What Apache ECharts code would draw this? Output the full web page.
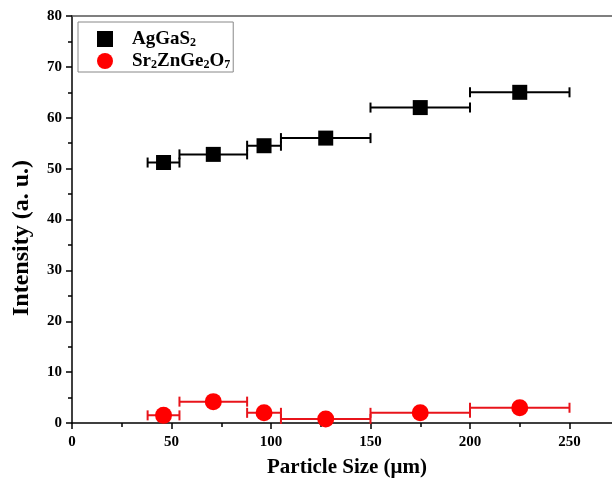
<!DOCTYPE html>
<html>
<head>
<meta charset="utf-8">
<script src="https://cdn.jsdelivr.net/npm/echarts@6/dist/echarts.min.js"></script>
<style>
  html, body { margin: 0; padding: 0; background: #fff; }
  #main { width: 612px; height: 486px; }
</style>
</head>
<body>
<div id="main"></div>
<script>
// particle size bins (µm): centre, lower and upper edge
const sizes = [46, 71, 96.5, 127.5, 175, 225];
const sizeLow = [38, 54, 88, 105, 150, 200];
const sizeHigh = [54, 88, 105, 150, 200, 250];
// SHG intensity (a. u.)
const agGaS2 = [51.2, 52.8, 54.5, 56.0, 62.0, 65.0];
const srZnGeO = [1.5, 4.2, 2.0, 0.8, 2.0, 3.0];
const yTicks = [0, 10, 20, 30, 40, 50, 60, 70, 80];

const FONT = 'Liberation Serif';

function pts(ys) {
  return sizes.map((x, i) => [x, ys[i]]);
}
function bars(ys) {
  return sizes.map((x, i) => [sizeLow[i], sizeHigh[i], ys[i]]);
}

// horizontal error bar with end caps
function errBar(color) {
  return function (params, api) {
    const a = api.coord([api.value(0), api.value(2)]);
    const b = api.coord([api.value(1), api.value(2)]);
    const h = 5;
    const st = { stroke: color, lineWidth: 2 };
    return {
      type: 'group',
      children: [
        { type: 'line', shape: { x1: a[0], y1: a[1], x2: b[0], y2: b[1] }, style: st },
        { type: 'line', shape: { x1: a[0], y1: a[1] - h, x2: a[0], y2: a[1] + h }, style: st },
        { type: 'line', shape: { x1: b[0], y1: b[1] - h, x2: b[0], y2: b[1] + h }, style: st }
      ]
    };
  };
}

// chemical formula -> rich text with small subscript digits
function formula(n) {
  return '{g|}' + n.match(/[A-Za-z]+|\d+/g)
    .map(p => /\d/.test(p) ? '{s|' + p + '}' : '{t|' + p + '}')
    .join('');
}

const chart = echarts.init(document.getElementById('main'));

const axisFont = { fontFamily: FONT, fontWeight: 'bold', fontSize: 15, color: '#000' };

chart.setOption({
  animation: false,
  grid: { left: 72, top: 16, width: 597, bottom: 63, outerBoundsMode: 'none', containLabel: false },
  legend: {
    orient: 'vertical',
    left: 78,
    top: 22,
    padding: [7, 3, 1, 19],
    itemGap: 2,
    itemWidth: 16,
    itemHeight: 16,
    borderColor: '#888',
    borderWidth: 1,
    data: ['AgGaS2', 'Sr2ZnGe2O7'],
    formatter: formula,
    textStyle: {
      fontFamily: FONT, fontWeight: 'bold', fontSize: 19, color: '#000',
      rich: {
        g: { width: 14 },
        t: { fontFamily: FONT, fontWeight: 'bold', fontSize: 19, color: '#000', lineHeight: 20 },
        s: { fontFamily: FONT, fontWeight: 'bold', fontSize: 12, color: '#000', lineHeight: 12, padding: [8, 0, 0, 0] }
      }
    }
  },
  xAxis: [{
    type: 'value',
    min: 0,
    max: 300,
    interval: 50,
    position: 'bottom',
    axisLine: { lineStyle: { color: '#000', width: 1.5 } },
    axisTick: { inside: false, length: 6, lineStyle: { color: '#000', width: 1.5 } },
    minorTick: { show: true, splitNumber: 2, length: 4, lineStyle: { color: '#000', width: 1.5 } },
    axisLabel: Object.assign({ margin: 12 }, axisFont),
    splitLine: { show: false }
  }, {
    type: 'value',
    min: 0,
    max: 300,
    position: 'top',
    axisLine: { show: true, onZero: false, lineStyle: { color: '#555', width: 1.5 } },
    axisTick: { show: false },
    axisLabel: { show: false },
    splitLine: { show: false }
  }],
  yAxis: {
    type: 'value',
    min: yTicks[0],
    max: yTicks[yTicks.length - 1],
    interval: 10,
    axisLine: { show: true, lineStyle: { color: '#000', width: 1.5 } },
    axisTick: { show: true, length: 6, lineStyle: { color: '#000', width: 1.5 } },
    minorTick: { show: true, splitNumber: 2, length: 4, lineStyle: { color: '#000', width: 1.5 } },
    axisLabel: Object.assign({ margin: 10 }, axisFont),
    splitLine: { show: false }
  },
  graphic: [
    {
      type: 'text', x: 347, y: 457,
      style: { text: 'Particle Size (\u03bcm)', font: 'bold 21px "Liberation Serif"', fill: '#000', align: 'center', verticalAlign: 'top' }
    },
    {
      type: 'text', x: 10, y: 238, rotation: Math.PI / 2,
      style: { text: 'Intensity (a. u.)', font: 'bold 24px "Liberation Serif"', fill: '#000', align: 'center', verticalAlign: 'top' }
    }
  ],
  series: [
    {
      name: 'AgGaS2 err', type: 'custom', renderItem: errBar('#000'),
      data: bars(agGaS2), z: 2, silent: true
    },
    {
      name: 'Sr2ZnGe2O7 err', type: 'custom', renderItem: errBar('#e8141b'),
      data: bars(srZnGeO), z: 2, silent: true
    },
    {
      name: 'AgGaS2', type: 'scatter', symbol: 'rect', symbolSize: 15,
      itemStyle: { color: '#000', opacity: 1 }, data: pts(agGaS2), z: 5
    },
    {
      name: 'Sr2ZnGe2O7', type: 'scatter', symbol: 'circle', symbolSize: 17,
      itemStyle: { color: '#ff0000', opacity: 1 }, data: pts(srZnGeO), z: 5
    }
  ]
});
</script>
</body>
</html>
